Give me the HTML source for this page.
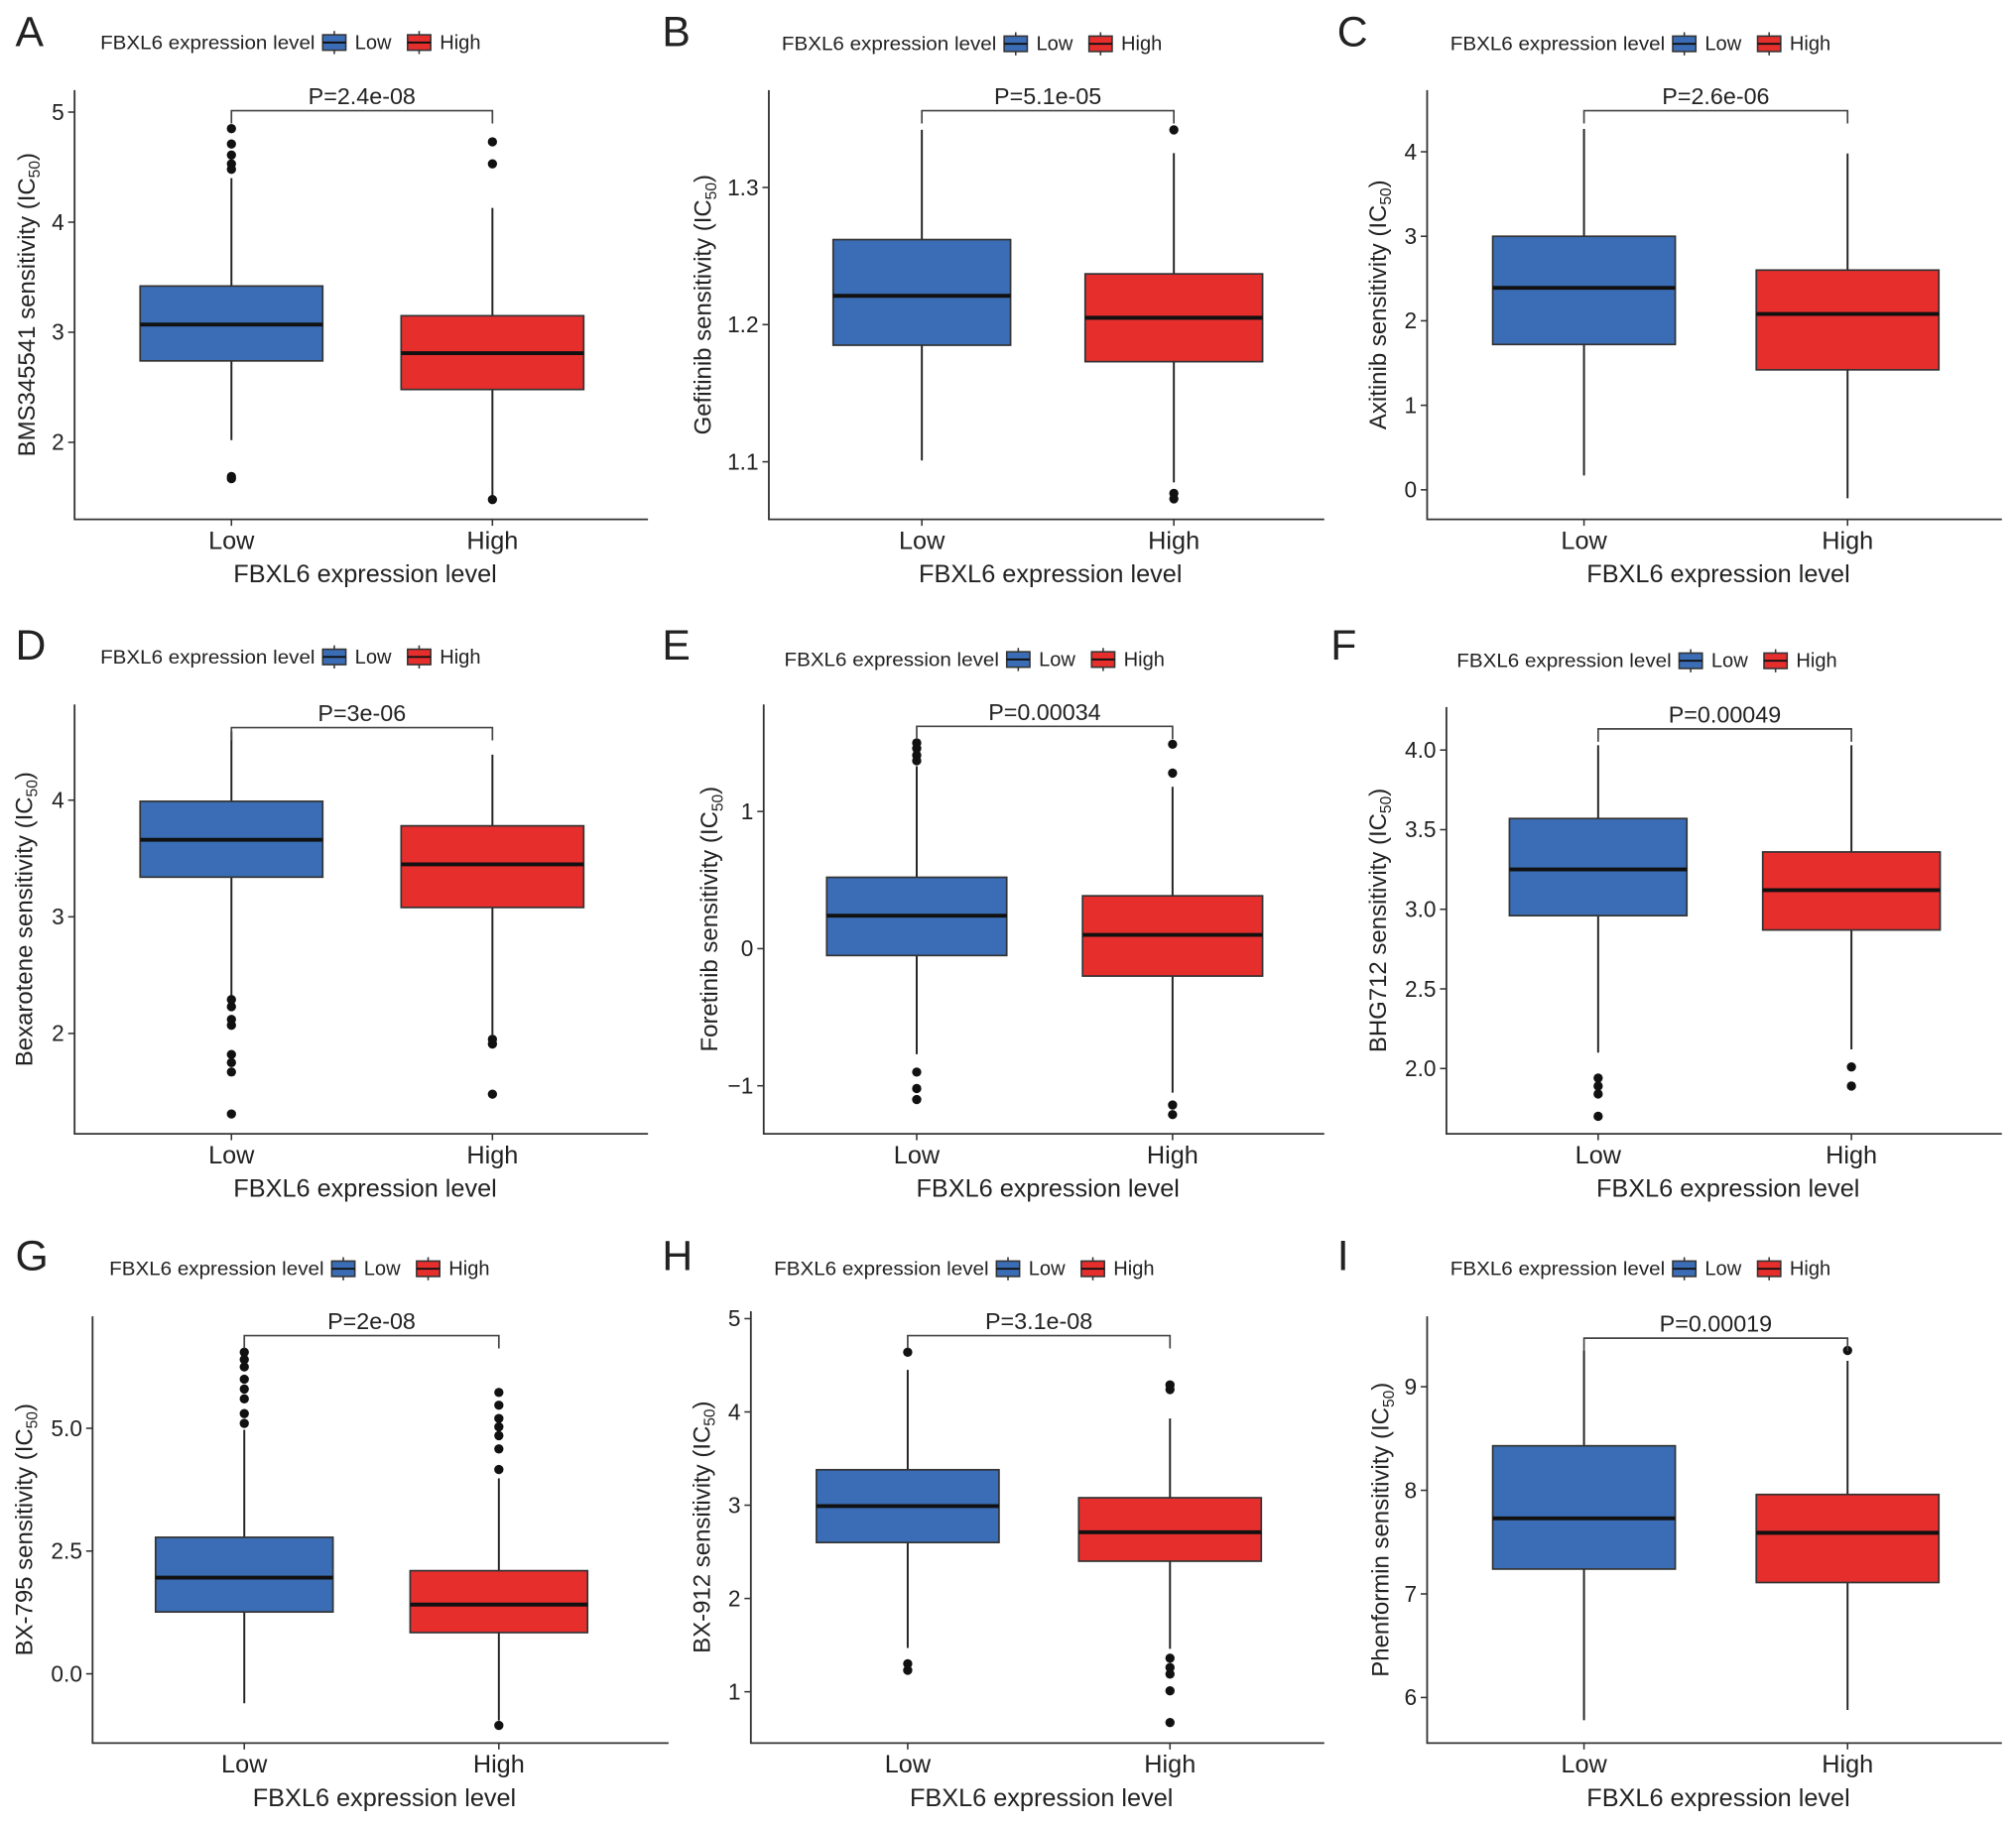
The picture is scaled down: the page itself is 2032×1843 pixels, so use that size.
<!DOCTYPE html>
<html><head><meta charset="utf-8"><style>
html,body{margin:0;padding:0;background:#fff}
svg{display:block}
text{font-family:"Liberation Sans",sans-serif;fill:#222}
</style></head><body>
<svg id="fig" width="2032" height="1843" viewBox="0 0 1568 1422" xmlns="http://www.w3.org/2000/svg"></svg>
<script>
// ---- data ----
const categories = ["Low", "High"];
const panelLetters = ["A","B","C","D","E","F","G","H","I"];
const drugNames = ["BMS345541","Gefitinib","Axitinib","Bexarotene","Foretinib","BHG712","BX-795","BX-912","Phenformin"];
const pValues = ["P=2.4e-08","P=5.1e-05","P=2.6e-06","P=3e-06","P=0.00034","P=0.00049","P=2e-08","P=3.1e-08","P=0.00019"];
// [whiskerLow, Q1, median, Q3, whiskerHigh] for Low, High
const lowStats = [
  [2.02,2.74,3.07,3.42,4.40],
  [1.101,1.185,1.221,1.262,1.342],
  [0.17,1.72,2.39,3.0,4.27],
  [2.30,3.34,3.66,3.99,4.59],
  [-0.77,-0.05,0.24,0.52,1.33],
  [2.10,2.96,3.25,3.57,4.03],
  [-0.60,1.26,1.96,2.78,4.97],
  [1.47,2.60,2.99,3.38,4.45],
  [5.78,7.24,7.73,8.43,9.35]
];
const highStats = [
  [1.48,2.48,2.81,3.15,4.13],
  [1.085,1.173,1.205,1.237,1.325],
  [-0.10,1.42,2.08,2.60,3.98],
  [1.99,3.08,3.45,3.78,4.39],
  [-1.05,-0.20,0.10,0.385,1.18],
  [2.12,2.87,3.12,3.36,4.03],
  [-0.95,0.84,1.41,2.10,3.98],
  [1.46,2.40,2.71,3.08,3.93],
  [5.88,7.11,7.59,7.96,9.25]
];
const lowOutliers = [
  [4.85,4.71,4.61,4.53,4.48,1.69,1.67],
  [],
  [],
  [2.29,2.23,2.12,2.07,1.82,1.75,1.67,1.31],
  [1.50,1.46,1.41,1.37,-0.90,-1.02,-1.10],
  [1.94,1.89,1.84,1.70],
  [6.55,6.4,6.25,6.0,5.8,5.6,5.3,5.1],
  [4.64,1.30,1.23],
  []
];
const highOutliers = [
  [4.73,4.53,1.48],
  [1.342,1.077,1.073],
  [],
  [1.95,1.91,1.48],
  [1.49,1.28,-1.14,-1.21],
  [2.01,1.89],
  [5.73,5.47,5.2,5.03,4.85,4.58,4.16,-1.05],
  [4.29,4.24,1.36,1.26,1.19,1.01,0.67],
  [9.35]
];
const yTicks = [
  [2,3,4,5],
  [1.1,1.2,1.3],
  [0,1,2,3,4],
  [2,3,4],
  [-1,0,1],
  [2.0,2.5,3.0,3.5,4.0],
  [0.0,2.5,5.0],
  [1,2,3,4,5],
  [6,7,8,9]
];
const yTickLabels = [
  ["2","3","4","5"],
  ["1.1","1.2","1.3"],
  ["0","1","2","3","4"],
  ["2","3","4"],
  ["\u22121","0","1"],
  ["2.0","2.5","3.0","3.5","4.0"],
  ["0.0","2.5","5.0"],
  ["1","2","3","4","5"],
  ["6","7","8","9"]
];
const yDomains = [
  [1.30,5.20],[1.058,1.371],[-0.35,4.73],[1.14,4.82],[-1.35,1.78],[1.59,4.27],[-1.41,7.28],[0.45,5.08],[5.56,9.68]
];

// ---- layout (pixel geometry, viewBox units) ----
const layout = [
  {l:58,r:504,t:70,b:404,xl:180,xh:383,hw:71,br:86,lg:[78,33],lt:[12,36],yt:20},
  {l:598,r:1030,t:70,b:404,xl:717,xh:913,hw:69,br:86,lg:[608,34],lt:[515,36],yt:546},
  {l:1110,r:1557,t:70,b:404,xl:1232,xh:1437,hw:71,br:86,lg:[1128,34],lt:[1040,36],yt:1071},
  {l:58,r:504,t:548,b:882,xl:180,xh:383,hw:71,br:566,lg:[78,511],lt:[12,513],yt:18},
  {l:594,r:1030,t:548,b:882,xl:713,xh:912,hw:70,br:565,lg:[610,513],lt:[515,513],yt:551},
  {l:1125,r:1557,t:550,b:882,xl:1243,xh:1440,hw:69,br:567,lg:[1133,514],lt:[1035,513],yt:1071},
  {l:72,r:520,t:1024,b:1356,xl:190,xh:388,hw:69,br:1039,lg:[85,987],lt:[12,988],yt:18},
  {l:584,r:1030,t:1020,b:1356,xl:706,xh:910,hw:71,br:1039,lg:[602,987],lt:[515,988],yt:545},
  {l:1110,r:1557,t:1024,b:1356,xl:1232,xh:1437,hw:71,br:1041,lg:[1128,987],lt:[1040,988],yt:1073}
];
const BLUE="#3a6db5", RED="#e62e2d";
const NS="http://www.w3.org/2000/svg";
const svg=document.getElementById('fig');
function mk(tag,attrs,parent,txt){const e=document.createElementNS(NS,tag);for(const k in attrs)e.setAttribute(k,attrs[k]);if(txt!==undefined)e.textContent=txt;(parent||svg).appendChild(e);return e;}

layout.forEach((L,i)=>{
  const g=mk('g',{});
  
  
  const [d0,d1]=yDomains[i];
  const y=v=>L.b-(v-d0)/(d1-d0)*(L.b-L.t);
  const lt=mk('text',{x:L.lt[0],y:L.lt[1],'font-size':33},g,panelLetters[i]);
  
  
  const lg=mk('g',{},g);
  
  
  const lx=L.lg[0], ly=L.lg[1];
  mk('text',{x:lx,y:ly+5,'font-size':15,fill:'#333',textLength:167,lengthAdjust:'spacingAndGlyphs'},lg,'FBXL6 expression level');
  [[BLUE,'Low',lx+172],[RED,'High',lx+238]].forEach(([c,t,kx])=>{
    const ke=mk('g',{},lg);
    
    
    mk('line',{x1:kx+10,x2:kx+10,y1:ly-9,y2:ly+9,stroke:'#333','stroke-width':1.2},ke);
    mk('rect',{x:kx+1,y:ly-6,width:18,height:12,fill:c,stroke:'#333','stroke-width':1.2},ke);
    mk('line',{x1:kx+1,x2:kx+19,y1:ly,y2:ly,stroke:'#111','stroke-width':1.5},ke);
    mk('text',{x:kx+26,y:ly+5,'font-size':15.5,fill:'#333'},ke,t);
  });
  const ax=mk('path',{d:`M${L.l} ${L.t}V${L.b}H${L.r}`,fill:'none',stroke:'#333','stroke-width':1.4},g);
  
  
  yTicks[i].forEach((v,j)=>{
    const yy=y(v);
    mk('line',{x1:L.l-5,x2:L.l,y1:yy,y2:yy,stroke:'#333','stroke-width':1.2},g);
    const tl=mk('text',{x:L.l-8,y:yy+6,'font-size':17.5,'text-anchor':'end',fill:'#444'},g,yTickLabels[i][j]);
    
    
  });
  const yt=mk('text',{transform:`translate(${L.yt+7},${(L.t+L.b)/2}) rotate(-90)`,'font-size':18.5,'text-anchor':'middle',fill:'#333'},g);
  
  
  mk('tspan',{},yt,drugNames[i]+' sensitivity (IC');
  mk('tspan',{'font-size':12,dy:4},yt,'50');
  mk('tspan',{dy:-4},yt,')');
  [L.xl,L.xh].forEach((cx,k)=>{
    mk('line',{x1:cx,x2:cx,y1:L.b,y2:L.b+5,stroke:'#333','stroke-width':1.2},g);
    const xl=mk('text',{x:cx,y:L.b+23,'font-size':19.5,'text-anchor':'middle',fill:'#333'},g,categories[k]);
    
    
  });
  const xt=mk('text',{x:(L.l+L.r)/2+3,y:L.b+49,'font-size':19.5,'text-anchor':'middle',fill:'#333'},g,'FBXL6 expression level');
  
  
  [[lowStats[i],lowOutliers[i],L.xl,BLUE,'low'],[highStats[i],highOutliers[i],L.xh,RED,'high']].forEach(([s,o,cx,c,nm])=>{
    const bg=mk('g',{},g);
    
    
    mk('line',{x1:cx,x2:cx,y1:y(s[0]),y2:y(s[4]),stroke:'#222','stroke-width':1.5},bg);
    mk('rect',{x:cx-L.hw,y:y(s[3]),width:2*L.hw,height:y(s[1])-y(s[3]),fill:c,stroke:'#333','stroke-width':1.3},bg);
    mk('line',{x1:cx-L.hw,x2:cx+L.hw,y1:y(s[2]),y2:y(s[2]),stroke:'#111','stroke-width':3},bg);
    o.forEach(v=>{
      const p=mk('circle',{cx:cx,cy:y(v),r:3.6,fill:'#111'},bg);
      
      
    });
  });
  const br=mk('path',{d:`M${L.xl} ${L.br+10}V${L.br}H${L.xh}V${L.br+10}`,fill:'none',stroke:'#444','stroke-width':1.3},g);
  
  
  const pv=mk('text',{x:(L.xl+L.xh)/2,y:L.br-5,'font-size':18,'text-anchor':'middle',fill:'#333'},g,pValues[i]);
  
  
});
</script>
</body></html>
